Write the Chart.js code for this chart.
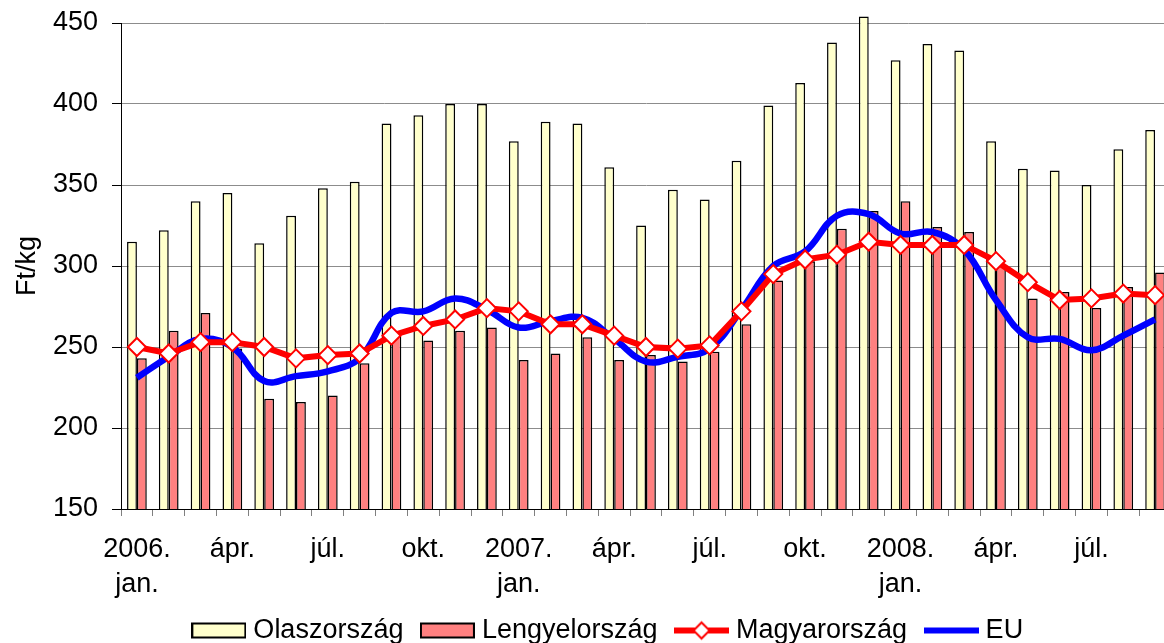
<!DOCTYPE html>
<html><head><meta charset="utf-8">
<script src="https://cdn.jsdelivr.net/npm/chart.js@4"></script>
<style>
html,body{margin:0;padding:0;overflow:hidden;background:#fff;width:1164px;height:643px}
#wrap{position:absolute;left:0;top:0;width:1171px;height:643px}
</style>
</head><body><div id="wrap"><canvas id="c" width="1171" height="643"></canvas></div>
<script>
const months = [
  '2006. jan.','febr.','márc.','ápr.','máj.','jún.','júl.','aug.','szept.','okt.','nov.','dec.',
  '2007. jan.','febr.','márc.','ápr.','máj.','jún.','júl.','aug.','szept.','okt.','nov.','dec.',
  '2008. jan.','febr.','márc.','ápr.','máj.','jún.','júl.','aug.','szept.'
];
const tickLabels = [
  ['2006.','jan.'],'','','ápr.','','','júl.','','','okt.','','',
  ['2007.','jan.'],'','','ápr.','','','júl.','','','okt.','','',
  ['2008.','jan.'],'','','ápr.','','','júl.','',''
];
const olasz = [315,322,340,345,314,331,348,352,388,393,400,400,
               377,389,388,361,325,347,341,365,399,413,438,454,
               427,437,433,377,360,359,350,372,384];
const lengyel = [243,260,271,249,218,216,220,240,257,254,260,262,
                 242,246,256,242,245,241,247,264,291,303,323,334,
                 340,324,321,301,280,284,274,287,296];
const magyar = [250,246,253,253,250,243,245,246,257,263,267,274,
                272,264,264,257,250,249,251,272,295,304,307,315,
                313,313,313,303,290,279,280,283,282];
const eu = [231,244,255,250,229,232,235,243,271,272,280,273,
            262,266,268,255,241,244,249,273,300,309,331,332,
            320,321,310,279,256,255,248,257,267];
const seriesNames = ['Olaszország','Lengyelország','Magyarország','EU'];
const yMin = 150, yMax = 450, yStep = 50;

const FONT = "'Liberation Sans', Arial, sans-serif";

function swatch(kind, fill, stroke) {
  const c = document.createElement('canvas');
  c.width = 55; c.height = 22;
  const g = c.getContext('2d');
  if (kind === 'box') {
    g.fillStyle = fill; g.fillRect(1, 4, 53, 14);
    g.strokeStyle = '#000'; g.lineWidth = 2; g.strokeRect(1, 4, 53, 14);
  } else {
    g.strokeStyle = stroke; g.lineWidth = 6;
    g.beginPath(); g.moveTo(0, 11); g.lineTo(55, 11); g.stroke();
    if (kind === 'marker') {
      g.beginPath();
      g.moveTo(27.5, 3); g.lineTo(35.5, 11); g.lineTo(27.5, 19); g.lineTo(19.5, 11); g.closePath();
      g.fillStyle = '#fff'; g.fill();
      g.lineWidth = 2; g.strokeStyle = stroke; g.stroke();
    }
  }
  return c;
}
const swatches = [
  swatch('box', '#FFFFCC'),
  swatch('box', '#FF8080'),
  swatch('marker', null, '#FF0000'),
  swatch('line', null, '#0000FF')
];

const layoutTweak = {
  id: 'layoutTweak',
  afterLayout(chart) {
    const L = chart.legend;
    if (L) { L.left += 25; L.right += 25; L.top += 11; L.bottom += 11; }
    const x = chart.scales.x;
    if (x) { x.bottom = chart.height; }
  }
};

new Chart(document.getElementById('c'), {
  data: {
    labels: months,
    datasets: [
      { type: 'bar', label: seriesNames[0], data: olasz, backgroundColor: '#FFFFCC',
        borderColor: '#000', borderWidth: 1.5, categoryPercentage: 0.62, barPercentage: 1, order: 2,
        clip: { left: 0, top: 12, right: 0, bottom: 0 } },
      { type: 'bar', label: seriesNames[1], data: lengyel, backgroundColor: '#FF8080',
        borderColor: '#000', borderWidth: 1.5, categoryPercentage: 0.62, barPercentage: 1, order: 3 },
      { type: 'line', label: seriesNames[2], data: magyar, borderColor: '#FF0000', backgroundColor: '#FF0000',
        borderWidth: 6, tension: 0, pointStyle: 'rectRot', pointRadius: 9, pointHoverRadius: 9,
        pointBackgroundColor: '#fff', pointBorderColor: '#FF0000', pointBorderWidth: 2, fill: false, order: 0 },
      { type: 'line', label: seriesNames[3], data: eu, borderColor: '#0000FF', backgroundColor: '#0000FF',
        borderWidth: 6.5, tension: 0.4, pointRadius: 0, pointHoverRadius: 0, fill: false, order: 1 }
    ]
  },
  options: {
    responsive: false,
    animation: false,
    devicePixelRatio: 1,
    layout: { autoPadding: false, padding: { top: 23, left: 0, right: 0, bottom: 0 } },
    plugins: {
      tooltip: { enabled: false },
      legend: {
        position: 'bottom',
        labels: {
          usePointStyle: true,
          pointStyleWidth: 42,
          padding: 23,
          color: '#000',
          font: { family: FONT, size: 27 },
          sort: (a, b) => a.datasetIndex - b.datasetIndex,
          generateLabels(chart) {
            const items = Chart.defaults.plugins.legend.labels.generateLabels(chart);
            items.forEach(it => { it.pointStyle = swatches[it.datasetIndex]; });
            return items;
          }
        }
      }
    },
    scales: {
      x: {
        ticks: {
          autoSkip: false, maxRotation: 0, minRotation: 0, color: '#000', padding: 16,
          font: { family: FONT, size: 27, lineHeight: 1.3 },
          callback: (v, i) => tickLabels[i]
        },
        grid: { offset: true, drawOnChartArea: false, drawTicks: true, tickLength: 7, color: '#808080' },
        border: { color: '#000', width: 1 },
        afterFit(s) { s.height = 74; s.paddingLeft = 0; s.paddingRight = 0; }
      },
      y: {
        min: yMin, max: yMax,
        ticks: { stepSize: yStep, color: '#000', padding: 14, font: { family: FONT, size: 27 } },
        grid: { color: '#8c8c8c', lineWidth: 1, tickLength: 9, tickColor: '#000', drawTicks: true },
        border: { color: '#000', width: 1 },
        title: { display: true, text: 'Ft/kg', color: '#000', font: { family: FONT, size: 27 },
                 padding: { top: 11, bottom: 0 } },
        afterFit(s) { s.width = 121; s.paddingTop = 0; s.paddingBottom = 0; }
      }
    }
  },
  plugins: [layoutTweak]
});
</script>
</body></html>
